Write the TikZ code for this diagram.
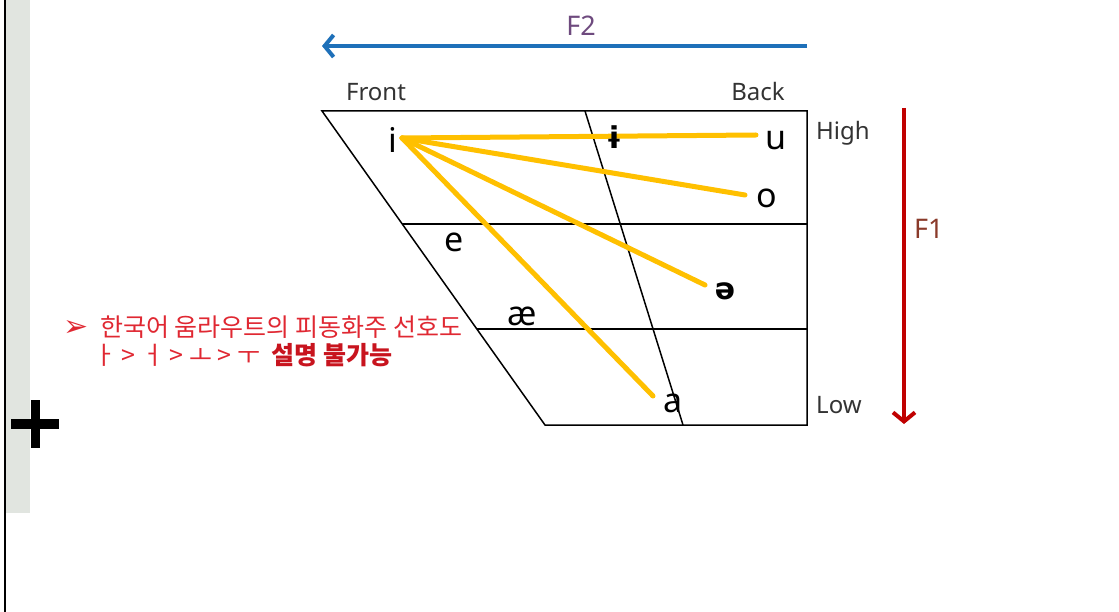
\documentclass[tikz,border=0pt]{standalone}
\usepackage{fontspec}
\setmainfont{Noto Sans}
\newfontfamily\krfont{Noto Sans CJK KR}
\newfontfamily\djfont{DejaVu Sans}
\usetikzlibrary{arrows.meta}
\definecolor{bandgrey}{RGB}{225,229,224}
\definecolor{vowelyellow}{RGB}{255,192,0}
\definecolor{ftwoblue}{RGB}{30,112,185}
\definecolor{fonered}{RGB}{192,0,0}
\definecolor{ftwotext}{RGB}{110,74,126}
\definecolor{fonetext}{RGB}{138,58,42}
\definecolor{notered}{RGB}{224,40,50}
\definecolor{noteboldred}{RGB}{200,20,30}
\tikzset{
  chart/.style={line width=1.5pt, black},
  vline/.style={line width=5pt, vowelyellow, line cap=round},
  vowel/.style={anchor=base, inner sep=0pt, font=\fontsize{34}{38}\selectfont},
  boldvowel/.style={vowel, font=\djfont\bfseries\fontsize{30}{34}\selectfont},
  axislabel/.style={anchor=base, inner sep=0pt, text=black!80, font=\fontsize{24}{28}\selectfont},
  flabel/.style={anchor=base, inner sep=0pt, font=\fontsize{27}{30}\selectfont},
  note/.style={anchor=base west, inner sep=0pt, text=notered, font=\krfont\fontsize{25}{28}\selectfont},
}
\begin{document}
\begin{tikzpicture}[x=1pt,y=-1pt]
\useasboundingbox (0,0) rectangle (1119,612);
\fill[white] (0,0) rectangle (1119,612);
% left grey band, border and plus
\fill[bandgrey] (6,0) rectangle (30,513);
\draw[line width=1.5pt] (5,0) -- (5,612);
\fill[black] (11,419) rectangle (59,429);
\fill[black] (31,400) rectangle (40,448);
% vowel chart
\coordinate (TL) at (322,111);
\coordinate (TR) at (807,111);
\coordinate (BR) at (807,425);
\coordinate (BL) at (545,425);
\coordinate (M1L) at (402,224);
\coordinate (M1R) at (807,224);
\coordinate (M2L) at (477,329);
\coordinate (M2R) at (807,329);
\coordinate (CT) at (585,111);
\coordinate (CB) at (683,425);
\draw[chart] (TL) -- (TR) -- (BR) -- (BL) -- cycle;
\draw[chart] (M1L) -- (M1R);
\draw[chart] (M2L) -- (M2R);
\draw[chart] (CT) -- (CB);
% yellow lines
\coordinate (iP) at (402,138);
\coordinate (uP) at (756,135);
\coordinate (oP) at (745,195);
\coordinate (schwaP) at (705,285);
\coordinate (aP) at (653,396);
\draw[vline] (iP) -- (uP);
\draw[vline] (iP) -- (oP);
\draw[vline] (iP) -- (schwaP);
\draw[vline] (iP) -- (aP);
% vowel labels
\node[vowel] (vi) at (393,153) {i};
\node[boldvowel] (vbari) at (614,149) {ɨ};
\node[vowel] (vu) at (776,150) {u};
\node[vowel] (vo) at (767,208) {o};
\node[vowel] (ve) at (454,252) {e};
\node[boldvowel] (vschwa) at (725,300) {ə};
\node[vowel] (vae) at (522,325) {æ};
\node[vowel] (va) at (673,412) {a};
% axis labels
\node[axislabel] (front) at (376,101) {Front};
\node[axislabel] (back) at (758,101) {Back};
\node[axislabel, anchor=base west] (high) at (816,140) {High};
\node[axislabel, anchor=base west] (low) at (816,413) {Low};
% F2 arrow
\coordinate (F2s) at (807,46);
\coordinate (F2e) at (322,46);
\draw[ftwoblue, line width=4pt, -{Straight Barb[length=9pt,width=22pt]}] (F2s) -- (F2e);
\node[flabel, text=ftwotext] (f2) at (581,36) {F2};
% F1 arrow
\coordinate (F1s) at (904,108);
\coordinate (F1e) at (904,424);
\draw[fonered, line width=4pt, -{Straight Barb[length=9pt,width=22pt]}] (F1s) -- (F1e);
\node[flabel, text=fonetext, anchor=base west] (f1) at (914,239) {F1};
% note
\node[note, font=\djfont\fontsize{30}{32}\selectfont] (bullet) at (63,337) {➢};
\node[note] (note1) at (100,337) {한국어 움라우트의 피동화주 선호도};
\node[note] (note2) at (93,364) {ㅏ > ㅓ > ㅗ > ㅜ \ \textcolor{noteboldred}{\bfseries 설명 불가능}};
\end{tikzpicture}
\end{document}
